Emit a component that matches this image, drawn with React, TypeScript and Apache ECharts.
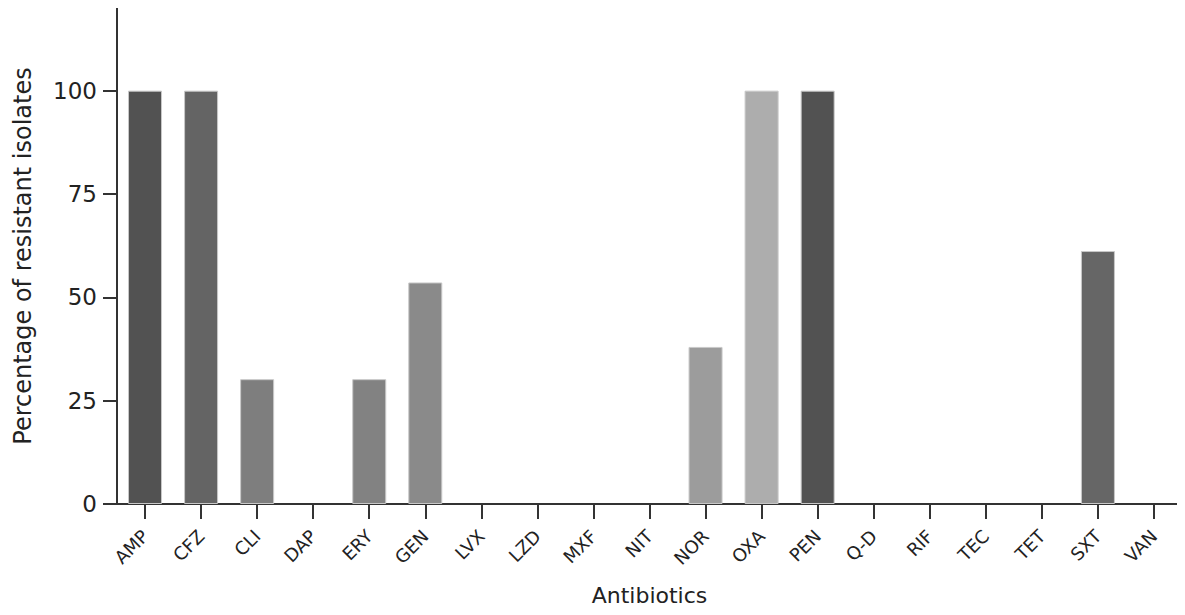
import React, { useEffect, useRef } from "react";
import * as echarts from "echarts";

const categories = ["AMP","CFZ","CLI","DAP","ERY","GEN","LVX","LZD","MXF","NIT","NOR","OXA","PEN","Q-D","RIF","TEC","TET","SXT","VAN"];
const values = [100,100,30.2,0,30.2,53.6,0,0,0,0,38.0,100,100,0,0,0,0,61.2,0];
const barColors = ["#525252","#646464","#7e7e7e","#7e7e7e","#828282","#8a8a8a","#8a8a8a","#8a8a8a","#8a8a8a","#8a8a8a","#9c9c9c","#adadad","#525252","#666666","#666666","#666666","#666666","#666666","#666666"];
const yTicks = [0, 25, 50, 75, 100];

export default function App() {
  const ref = useRef<HTMLDivElement>(null);
  useEffect(() => {
    const chart = echarts.init(ref.current!, null, { renderer: "svg" });
    const font = "DejaVu Sans";
    const axisColor = "#333333";
    chart.setOption({
      animation: false,
      grid: { left: 117, right: 3, top: 8, bottom: 111, outerBoundsMode: "none" },
      xAxis: {
        type: "category",
        data: categories,
        name: "Antibiotics",
        nameLocation: "middle",
        nameGap: 80,
        nameTextStyle: { fontFamily: font, fontSize: 22, color: "#222" },
        axisLine: { show: true, lineStyle: { color: axisColor, width: 2 } },
        axisTick: { show: true, alignWithLabel: true, length: 15, lineStyle: { color: axisColor, width: 2 } },
        axisLabel: { rotate: 45, margin: 29, fontFamily: font, fontSize: 18, color: "#222" },
      },
      yAxis: {
        type: "value",
        min: 0,
        max: 120,
        interval: 25,
        name: "Percentage of resistant isolates",
        nameLocation: "middle",
        nameGap: 82,
        nameTextStyle: { fontFamily: font, fontSize: 24, color: "#222" },
        axisLine: { show: true, lineStyle: { color: axisColor, width: 2 } },
        axisTick: { show: true, length: 14, customValues: yTicks, lineStyle: { color: axisColor, width: 2 } },
        axisLabel: {
          margin: 20, fontFamily: font, fontSize: 23, color: "#222",
          customValues: yTicks,
        },
        splitLine: { show: false },
      },
      series: [{
        type: "bar",
        barWidth: 34,
        data: values.map((v, i) => ({
          value: v,
          itemStyle: { color: barColors[i], borderColor: "#c8c8c8", borderWidth: v > 0 ? 1 : 0 },
        })),
      }],
    });
    return () => chart.dispose();
  }, []);
  return <div ref={ref} style={{ width: 1185, height: 615, margin: -8 }} />;
}
